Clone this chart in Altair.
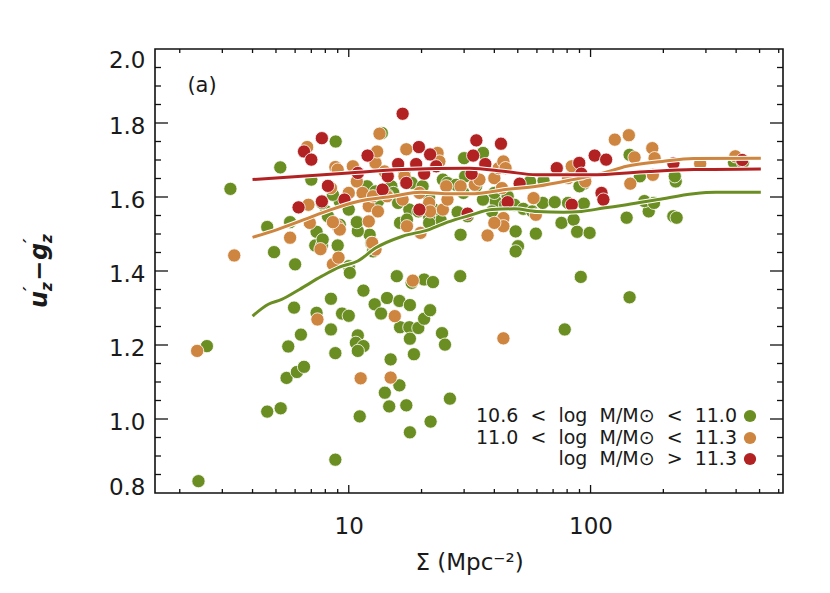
import altair as alt
import pandas as pd

# ---------------- data ----------------
green_x = [2.39, 2.59, 3.24, 4.6, 4.91, 5.21, 4.6, 5.23, 5.53, 6.1, 6.53, 5.62, 6.34, 5.94, 6.0, 5.72,
           7.0, 7.36, 7.27, 7.74, 7.36, 8.44, 8.83, 9.0, 8.44, 8.8, 8.8, 9.38, 10.0, 10.0, 10.1, 10.9,
           10.7, 11.5, 10.9, 11.1, 11.5, 12.2, 12.4, 12.6, 10.9, 10.9, 12.8, 13.6, 14.4, 14.1, 14.7,
           14.9, 16.2, 17.3, 17.9, 16.2, 17.9, 16.3, 17.8, 19.4, 17.9, 18.6, 20.5, 21.7, 15.8, 18.2,
           20.5, 22.3, 21.8, 24.3, 25.0, 26.2, 28.9, 29.0, 30.0, 35.9, 78.2, 91.1, 145, 50.1, 49, 49,
           59.4, 75.8, 85.1, 88, 99.1, 141, 174, 167, 183, 220, 227, 225, 223, 160, 145, 392, 427,
           63.4, 71.1, 80.7, 93.8, 93.8, 90, 56.2, 63.9, 40.5, 35.9, 44.3, 48.4, 52.7, 57.4, 29.8,
           33.6, 28.2, 31.0, 24.0, 22.5, 21.5, 21.5, 24.5, 25.6, 27.8, 30.3, 17.0, 18.2, 15.0, 15.3,
           16.0, 17.8, 20.2, 21.5, 11.9, 12.9, 14.4, 13.2, 9.18, 8.07, 7.74, 8.6, 10.0, 10.8, 9.18,
           7.8, 8.2, 16.3, 17.4, 19.4, 21.5, 39.1, 40.0, 45.4, 13.7]
green_y = [0.832, 1.197, 1.622, 1.519, 1.451, 1.680, 1.020, 1.029, 1.111, 1.127, 1.141, 1.196, 1.228,
           1.301, 1.418, 1.532, 1.647, 1.506, 1.469, 1.469, 1.287, 1.242, 1.750, 1.469, 1.325, 1.178,
           0.890, 1.285, 1.279, 1.413, 1.395, 1.226, 1.206, 1.197, 1.184, 1.007, 1.347, 1.498, 1.476,
           1.453, 1.532, 1.508, 1.310, 1.285, 1.327, 1.071, 1.034, 1.161, 1.091, 1.037, 0.964, 1.319,
           1.308, 1.248, 1.248, 1.246, 1.217, 1.175, 1.271, 1.294, 1.386, 1.368, 1.377, 1.370, 0.993,
           1.232, 1.201, 1.055, 1.386, 1.498, 1.705, 1.719, 1.242, 1.384, 1.329, 1.467, 1.453, 1.507,
           1.501, 1.530, 1.539, 1.506, 1.503, 1.544, 1.561, 1.589, 1.584, 1.548, 1.544, 1.642, 1.656,
           1.656, 1.714, 1.693, 1.693, 1.584, 1.586, 1.584, 1.582, 1.636, 1.629, 1.642, 1.644, 1.588,
           1.593, 1.579, 1.579, 1.568, 1.561, 1.611, 1.629, 1.559, 1.548, 1.537, 1.566, 1.546, 1.584,
           1.647, 1.638, 1.633, 1.656, 1.663, 1.638, 1.629, 1.611, 1.584, 1.566, 1.629, 1.600, 1.629,
           1.615, 1.606, 1.588, 1.588, 1.561, 1.584, 1.606, 1.566, 1.532, 1.525, 1.485, 1.548, 1.530,
           1.539, 1.561, 1.530, 1.561, 1.611, 1.602, 1.773]

orange_x = [2.36, 3.36, 5.72, 6.73, 6.81, 6.9, 7.42, 7.64, 8.6, 9.07, 8.8, 9.0, 8.44, 9.0, 9.18, 8.6,
            11.2, 10.4, 10.0, 10.8, 11.4, 12.1, 12.6, 12.9, 13.1, 13.4, 14.06, 14.4, 13.2, 12.1, 12.9,
            12.5, 15.5, 14.9, 18.4, 17.3, 17.0, 17.4, 16.7, 19.8, 19.6, 21.5, 21.7, 23.3, 24.5, 25.3,
            25.6, 29.0, 33.2, 34.7, 40.0, 41.7, 43.6, 44.5, 43.0, 43.6, 43.6, 40.0, 37.5, 43.6, 58.1,
            59.4, 80.7, 83.6, 95.1, 126, 144, 152, 146, 180, 184, 181, 284, 397, 23.7]
orange_y = [1.184, 1.442, 1.490, 1.735, 1.579, 1.530, 1.269, 1.459, 1.418, 1.436, 1.681, 1.674, 1.624,
            1.521, 1.512, 1.532, 1.110, 1.683, 1.611, 1.642, 1.611, 1.575, 1.602, 1.692, 1.723, 1.771,
            1.669, 1.602, 1.561, 1.534, 1.458, 1.476, 1.278, 1.112, 1.374, 1.729, 1.656, 1.521, 1.593,
            1.503, 1.611, 1.584, 1.561, 1.719, 1.566, 1.629, 1.593, 1.629, 1.633, 1.647, 1.651, 1.678,
            1.696, 1.678, 1.624, 1.543, 1.521, 1.530, 1.496, 1.218, 1.597, 1.552, 1.651, 1.683, 1.642,
            1.755, 1.767, 1.707, 1.636, 1.732, 1.705, 1.660, 1.690, 1.710, 1.696]

red_x = [6.53, 7.0, 7.74, 6.2, 7.74, 8.2, 9.6, 10.9, 11.96, 13.8, 14.5, 16.0, 16.7, 17.3, 19.0, 19.5,
         19.6, 20.5, 21.7, 23.0, 31.0, 32.2, 32.7, 33.7, 36.7, 42.6, 45.4, 50.9, 72.5, 83.6, 89.8,
         91.6, 104, 116, 111, 113, 220, 424]
red_y = [1.723, 1.701, 1.759, 1.572, 1.588, 1.630, 1.593, 1.665, 1.712, 1.620, 1.656, 1.689, 1.825,
         1.638, 1.689, 1.735, 1.566, 1.663, 1.715, 1.683, 1.555, 1.663, 1.712, 1.753, 1.689, 1.744,
         1.586, 1.636, 1.678, 1.579, 1.692, 1.663, 1.712, 1.701, 1.611, 1.593, 1.691, 1.700]

red_line_x = [4.0, 10.0, 16.7, 31.6, 44.5, 59.9, 100, 174, 267, 506]
red_line_y = [1.647, 1.665, 1.674, 1.678, 1.669, 1.660, 1.660, 1.669, 1.674, 1.676]
orange_line_x = [4.0, 5.06, 6.53, 8.44, 10.9, 15.3, 19.8, 25.6, 33.0, 44.5, 59.9, 84.3, 113, 141, 198, 267, 506]
orange_line_y = [1.491, 1.512, 1.539, 1.566, 1.588, 1.602, 1.613, 1.609, 1.609, 1.620, 1.629, 1.647, 1.665,
                 1.683, 1.696, 1.704, 1.705]
green_line_x = [4.0, 4.65, 5.28, 6.25, 7.74, 9.2, 10.9, 12.9, 16.7, 21.5, 25.6, 31.6, 39.1, 48.3, 59.9,
                77.4, 91.6, 113, 141, 190, 267, 329, 506]
green_line_y = [1.278, 1.310, 1.323, 1.350, 1.386, 1.411, 1.427, 1.462, 1.494, 1.512, 1.532, 1.550, 1.566,
                1.568, 1.561, 1.559, 1.561, 1.570, 1.579, 1.593, 1.609, 1.613, 1.613]

SP = "\u2007"
legend_labels = [f"10.6{SP}<{SP}log{SP}M/M⊙{SP}<{SP}11.0",
                 f"11.0{SP}<{SP}log{SP}M/M⊙{SP}<{SP}11.3",
                 f"log{SP}M/M⊙{SP}>{SP}11.3"]
x_major_ticks = [10, 100]
x_minor_ticks = [2, 3, 4, 5, 6, 7, 8, 9, 20, 30, 40, 50, 60, 70, 80, 90, 200, 300, 400, 500, 600]
y_major_ticks = [1.0, 1.2, 1.4, 1.6, 1.8]
y_minor_ticks = [0.85, 0.9, 0.95, 1.05, 1.1, 1.15, 1.25, 1.3, 1.35, 1.45, 1.5, 1.55,
                 1.65, 1.7, 1.75, 1.85, 1.9, 1.95]
y_labels = [0.8, 1.0, 1.2, 1.4, 1.6, 1.8, 2.0]

# ---------------- style ----------------
GREEN, ORANGE, RED = "#6B8E23", "#CD853F", "#B22222"
W, H = 628, 444
FONT = "DejaVu Sans"
TXT = "#1a1a1a"
xs = alt.Scale(type="log", domain=[1.58, 625])
ys = alt.Scale(domain=[0.8, 2.0])

x_axis = alt.Axis(values=x_major_ticks, format="d", ticks=False, tickSize=0, domain=False, grid=False,
                  labelFont=FONT, labelFontSize=23, labelColor=TXT, labelPadding=22,
                  title="Σ (Mpc⁻²)", titleFont=FONT, titleFontSize=23, titleFontWeight="normal",
                  titleColor=TXT, titlePadding=13)
y_axis = alt.Axis(values=y_labels, format=".1f", ticks=False, tickSize=0, domain=False, grid=False,
                  labelFont=FONT, labelFontSize=23, labelColor=TXT, labelPadding=10,
                  labelFlush=True, labelFlushOffset=3, labelOffset=3, title="")


def points(xv, yv, color):
    df = pd.DataFrame({"sigma": xv, "uz": yv})
    return alt.Chart(df).mark_circle(size=175, opacity=1, color=color, stroke="white",
                                     strokeWidth=0.8).encode(
        x=alt.X("sigma:Q", scale=xs, axis=x_axis),
        y=alt.Y("uz:Q", scale=ys, axis=y_axis))


def curve(xv, yv, color, width):
    df = pd.DataFrame({"sigma": xv, "uz": yv})
    return alt.Chart(df).mark_line(color=color, strokeWidth=width, interpolate="monotone").encode(
        x=alt.X("sigma:Q", scale=xs, axis=x_axis),
        y=alt.Y("uz:Q", scale=ys, axis=y_axis))


def xticks(vals, length):
    df = pd.DataFrame({"v": vals})
    base = alt.Chart(df).mark_rule(color="#111", strokeWidth=1.3)
    bot = base.encode(x=alt.X("v:Q", scale=xs, axis=x_axis), y=alt.value(H), y2=alt.value(H - length))
    top = base.encode(x=alt.X("v:Q", scale=xs, axis=x_axis), y=alt.value(0), y2=alt.value(length))
    return [bot, top]


def yticks(vals, length):
    df = pd.DataFrame({"v": vals})
    base = alt.Chart(df).mark_rule(color="#111", strokeWidth=1.3)
    left = base.encode(y=alt.Y("v:Q", scale=ys, axis=y_axis), x=alt.value(0), x2=alt.value(length))
    right = base.encode(y=alt.Y("v:Q", scale=ys, axis=y_axis), x=alt.value(W), x2=alt.value(W - length))
    return [left, right]


layers = []
layers += xticks(x_major_ticks, 8) + xticks(x_minor_ticks, 4)
layers += yticks(y_major_ticks, 13) + yticks(y_minor_ticks, 6)
layers += [points(green_x, green_y, GREEN), points(orange_x, orange_y, ORANGE), points(red_x, red_y, RED)]
for lx, ly, c in [(green_line_x, green_line_y, GREEN), (orange_line_x, orange_line_y, ORANGE),
                  (red_line_x, red_line_y, RED)]:
    layers.append(curve(lx, ly, "white", 5))
    layers.append(curve(lx, ly, c, 3))

# legend
leg_colors = [GREEN, ORANGE, RED]
leg_y = [367, 389, 410]
one = pd.DataFrame({"k": [0]})
for lab, col, yy in zip(legend_labels, leg_colors, leg_y):
    layers.append(alt.Chart(one).mark_text(align="right", baseline="middle", font=FONT, fontSize=19,
                                           color=TXT, text=lab).encode(x=alt.value(582), y=alt.value(yy)))
    layers.append(alt.Chart(one).mark_circle(size=150, opacity=1, color=col).encode(
        x=alt.value(595), y=alt.value(yy)))

# panel label
layers.append(alt.Chart(one).mark_text(align="center", baseline="middle", font=FONT, fontSize=21,
                                       color=TXT, text="(a)").encode(x=alt.value(47), y=alt.value(37)))

# y title u'_z - g'_z (rotated, built from pieces)
title_pieces = [("u", -36, 0, 24), ("′", -19, -9, 18), ("z", -19, 7, 15), ("−", -9, 0, 24),
                ("g", 12, 0, 24), ("′", 29, -9, 18), ("z", 29, 7, 15)]
for txt, dx, dy, fs in title_pieces:
    layers.append(alt.Chart(one).mark_text(align="left", baseline="middle", font=FONT, fontSize=fs,
                                           fontWeight="bold", fontStyle="italic", color=TXT, text=txt,
                                           angle=270, dx=dx, dy=dy).encode(
        x=alt.value(-115), y=alt.value(223)))

chart = alt.layer(*layers).properties(
    width=W, height=H,
    autosize=alt.AutoSizeParams(type="none"),
    padding={"left": 147, "top": 41, "right": 39, "bottom": 92},
).configure_view(stroke="#111", strokeWidth=1.6)

chart.save("out.html", embed_options={"renderer": "svg", "actions": False})
